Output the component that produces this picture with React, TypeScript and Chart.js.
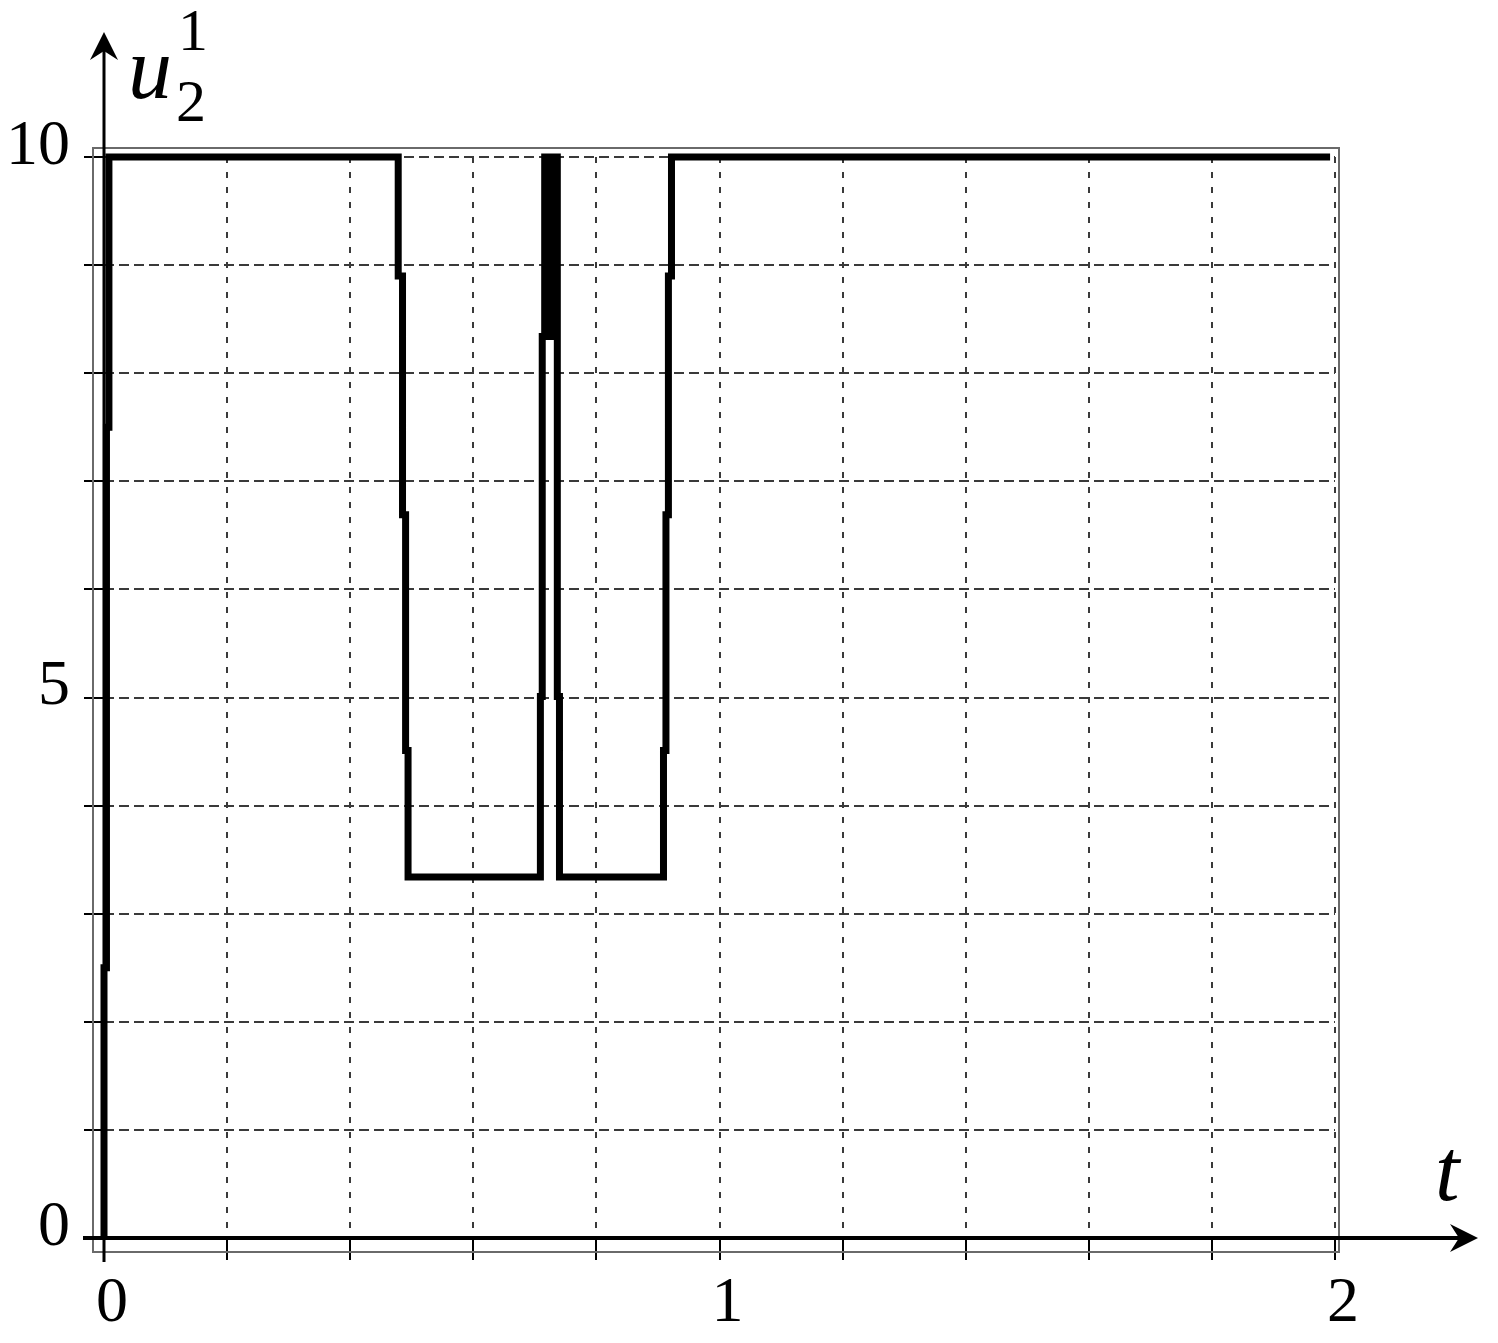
import React, { useEffect, useRef } from 'react';
import { Chart, registerables } from 'chart.js';

Chart.register(...registerables);

// time values (t) and control values (u_2^1)
const tValues = [
  0, 0, 0.004, 0.004, 0.008, 0.008,
  0.478, 0.478, 0.485, 0.485, 0.49, 0.49, 0.494, 0.494,
  0.709, 0.709, 0.712, 0.712, 0.716, 0.716, 0.7205, 0.7205, 0.725, 0.725,
  0.7295, 0.7295, 0.734, 0.734, 0.7365, 0.7365, 0.74, 0.74,
  0.909, 0.909, 0.913, 0.913, 0.917, 0.917, 0.922, 0.922,
  1.992,
];
const uValues = [
  0, 2.5, 2.5, 7.5, 7.5, 10,
  10, 8.9, 8.9, 6.69, 6.69, 4.51, 4.51, 3.34,
  3.34, 5.01, 5.01, 8.34, 8.34, 10, 10, 8.34, 8.34, 10,
  10, 8.34, 8.34, 10, 10, 5.01, 5.01, 3.34,
  3.34, 4.51, 4.51, 6.69, 6.69, 8.9, 8.9, 10,
  10,
];

const xLabeled = [0, 1, 2];
const yLabeled = [0, 5, 10];
const xRange = [0, 2];
const yRange = [0, 10];
const xStep = 0.2;
const yStep = 1;

const SERIF = '"Liberation Serif", "Times New Roman", serif';

const decorPlugin = {
  id: 'decor',
  beforeDatasetsDraw(chart: any) {
    const { ctx, chartArea: a } = chart;
    ctx.save();
    ctx.strokeStyle = '#6a6a6a';
    ctx.lineWidth = 2;
    ctx.strokeRect(a.left - 11, a.top - 9, a.right - a.left + 15, a.bottom - a.top + 23);
    ctx.restore();
  },
  afterDraw(chart: any) {
    const { ctx, chartArea: a, scales } = chart;
    const x0 = scales.x.getPixelForValue(0);
    const y0 = scales.y.getPixelForValue(0);
    ctx.save();
    ctx.fillStyle = '#000';
    ctx.strokeStyle = '#000';
    ctx.lineWidth = 3;
    // y axis
    const yTip = a.top - 125;
    ctx.beginPath();
    ctx.moveTo(x0, a.bottom + 24);
    ctx.lineTo(x0, yTip + 10);
    ctx.stroke();
    ctx.beginPath();
    ctx.moveTo(x0, yTip);
    ctx.lineTo(x0 - 14, yTip + 28);
    ctx.lineTo(x0, yTip + 19);
    ctx.lineTo(x0 + 14, yTip + 28);
    ctx.closePath();
    ctx.fill();
    // x axis
    const xTip = a.right + 143;
    ctx.lineWidth = 4;
    ctx.beginPath();
    ctx.moveTo(a.left - 21, y0);
    ctx.lineTo(xTip - 10, y0);
    ctx.stroke();
    ctx.beginPath();
    ctx.moveTo(xTip, y0);
    ctx.lineTo(xTip - 28, y0 - 14);
    ctx.lineTo(xTip - 19, y0);
    ctx.lineTo(xTip - 28, y0 + 14);
    ctx.closePath();
    ctx.fill();
    // axis titles
    ctx.textBaseline = 'alphabetic';
    ctx.textAlign = 'left';
    ctx.font = `italic 88px ${SERIF}`;
    ctx.fillText('u', x0 + 24, a.top - 59);
    ctx.font = `60px ${SERIF}`;
    ctx.fillText('1', x0 + 74, a.top - 107);
    ctx.fillText('2', x0 + 72, a.top - 36);
    ctx.font = `italic 88px ${SERIF}`;
    ctx.fillText('t', a.right + 100, y0 - 38);
    ctx.restore();
  },
};

export default function App() {
  const ref = useRef<HTMLCanvasElement | null>(null);
  useEffect(() => {
    if (!ref.current) return;
    const points = tValues.map((t, i) => ({ x: t, y: uValues[i] }));
    const isLabeled = (v: number, list: number[]) => list.some((l) => Math.abs(l - v) < 1e-6);
    const chart = new Chart(ref.current, {
      type: 'line',
      data: {
        datasets: [
          {
            data: points,
            borderColor: '#000',
            borderWidth: 7,
            pointRadius: 0,
            tension: 0,
            fill: false,
            borderJoinStyle: 'miter',
            borderCapStyle: 'butt',
            clip: false,
          } as any,
        ],
      },
      options: {
        animation: false,
        responsive: false,
        maintainAspectRatio: false,
        layout: { padding: { left: 0, right: 163, top: 157, bottom: 0 } },
        plugins: { legend: { display: false }, tooltip: { enabled: false } },
        scales: {
          x: {
            type: 'linear',
            min: xRange[0],
            max: xRange[1],
            afterFit: (s: any) => {
              s.height = 105;
            },
            ticks: {
              stepSize: xStep,
              autoSkip: false,
              maxRotation: 0,
              padding: 6,
              labelOffset: 8,
              color: '#000',
              font: { family: SERIF, size: 64 },
              callback: (v: any) => (isLabeled(Number(v), xLabeled) ? String(Math.round(Number(v))) : ''),
            },
            grid: { color: '#3a3a3a', lineWidth: 2, tickLength: 22, tickColor: '#000', tickWidth: 2 },
            border: { display: false, dash: [6, 9] },
          },
          y: {
            type: 'linear',
            min: yRange[0],
            max: yRange[1],
            afterFit: (s: any) => {
              s.width = 104;
            },
            ticks: {
              stepSize: yStep,
              autoSkip: false,
              padding: 14,
              labelOffset: -10,
              color: '#000',
              font: { family: SERIF, size: 64 },
              callback: (v: any) => (isLabeled(Number(v), yLabeled) ? String(Math.round(Number(v))) : ''),
            },
            grid: { color: '#3a3a3a', lineWidth: 2, tickLength: 20, tickColor: '#000', tickWidth: 2 },
            border: { display: false, dash: [10, 5] },
          },
        },
      } as any,
      plugins: [decorPlugin],
    });
    return () => chart.destroy();
  }, []);
  return (
    <div style={{ position: 'absolute', left: 0, top: 0, width: 1498, height: 1343, background: '#fff' }}>
      <canvas ref={ref} width={1498} height={1343} style={{ width: 1498, height: 1343, display: 'block' }} />
    </div>
  );
}
